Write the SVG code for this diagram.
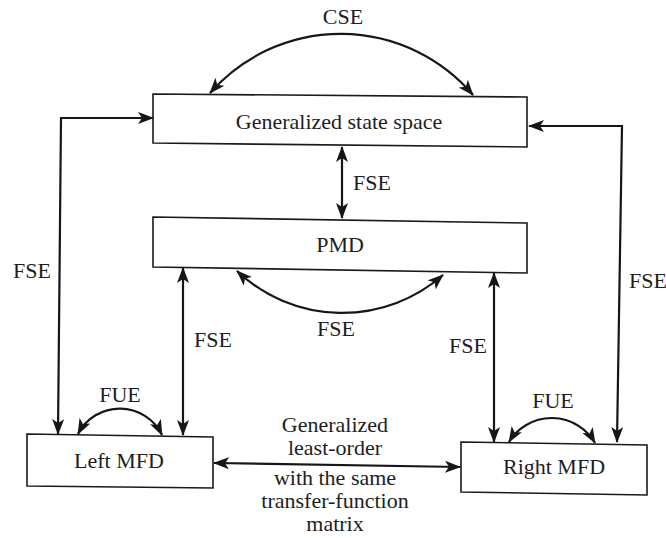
<svg xmlns="http://www.w3.org/2000/svg" width="666" height="538" viewBox="0 0 666 538">
  <style>
    .box { fill: #ffffff; stroke: #1a1a1a; stroke-width: 1.6; }
    .lbl { font-family: "Times New Roman", "Liberation Serif", "DejaVu Serif", serif; font-size: 22px; fill: #1e1e1e; text-anchor: middle; }
    .edge { fill: none; stroke: #161616; stroke-width: 2.2; marker-start: url(#head); marker-end: url(#head); }
  </style>
  <defs>
    <marker id="head" viewBox="0 0 16 12" refX="15" refY="6" markerWidth="16" markerHeight="12" markerUnits="userSpaceOnUse" orient="auto-start-reverse">
      <path d="M0,0 L16,6 L0,12 L4,6 z" fill="#161616"/>
    </marker>
  </defs>
  <rect width="666" height="538" fill="#ffffff"/>

  <!-- nodes -->
  <g id="gss">
    <polygon class="box" points="153,94 527,97 527,147 153,143"/>
    <text class="lbl" x="339" y="129">Generalized state space</text>
  </g>
  <g id="pmd">
    <polygon class="box" points="153,217 527,223 527,273 153,267"/>
    <text class="lbl" x="340" y="252">PMD</text>
  </g>
  <g id="left-mfd">
    <polygon class="box" points="27,434 213,437 213,488 27,486"/>
    <text class="lbl" x="119" y="468">Left MFD</text>
  </g>
  <g id="right-mfd">
    <polygon class="box" points="461,442 647,445 647,495 461,492"/>
    <text class="lbl" x="554" y="474">Right MFD</text>
  </g>

  <!-- connectors -->
  <g id="connectors">
    <path class="edge" d="M210,93 A174,174 0 0 1 473,95"/>
    <path class="edge" d="M342,147 L342,218"/>
    <path class="edge" d="M237,271 A153,153 0 0 0 443,275"/>
    <path class="edge" d="M58,434 L61,118 L153,118"/>
    <path class="edge" d="M617,442 L622,126 L529,126"/>
    <path class="edge" d="M183,268 L183,435"/>
    <path class="edge" d="M494,273 L494,442"/>
    <path class="edge" d="M78,434 A47,47 0 0 1 162,435"/>
    <path class="edge" d="M509,442 A50,50 0 0 1 595,443"/>
    <path class="edge" d="M214,463 L460,467"/>
  </g>

  <!-- connector labels -->
  <g id="labels">
    <text class="lbl" x="343" y="24">CSE</text>
    <text class="lbl" x="372" y="190">FSE</text>
    <text class="lbl" x="336" y="336">FSE</text>
    <text class="lbl" x="32" y="278">FSE</text>
    <text class="lbl" x="648" y="288">FSE</text>
    <text class="lbl" x="213" y="347">FSE</text>
    <text class="lbl" x="468" y="353">FSE</text>
    <text class="lbl" x="120" y="402">FUE</text>
    <text class="lbl" x="553" y="408">FUE</text>
    <text class="lbl" x="335" y="432">Generalized</text>
    <text class="lbl" x="335" y="455">least-order</text>
    <text class="lbl" x="335" y="485">with the same</text>
    <text class="lbl" x="335" y="508">transfer-function</text>
    <text class="lbl" x="335" y="531">matrix</text>
  </g>
</svg>
